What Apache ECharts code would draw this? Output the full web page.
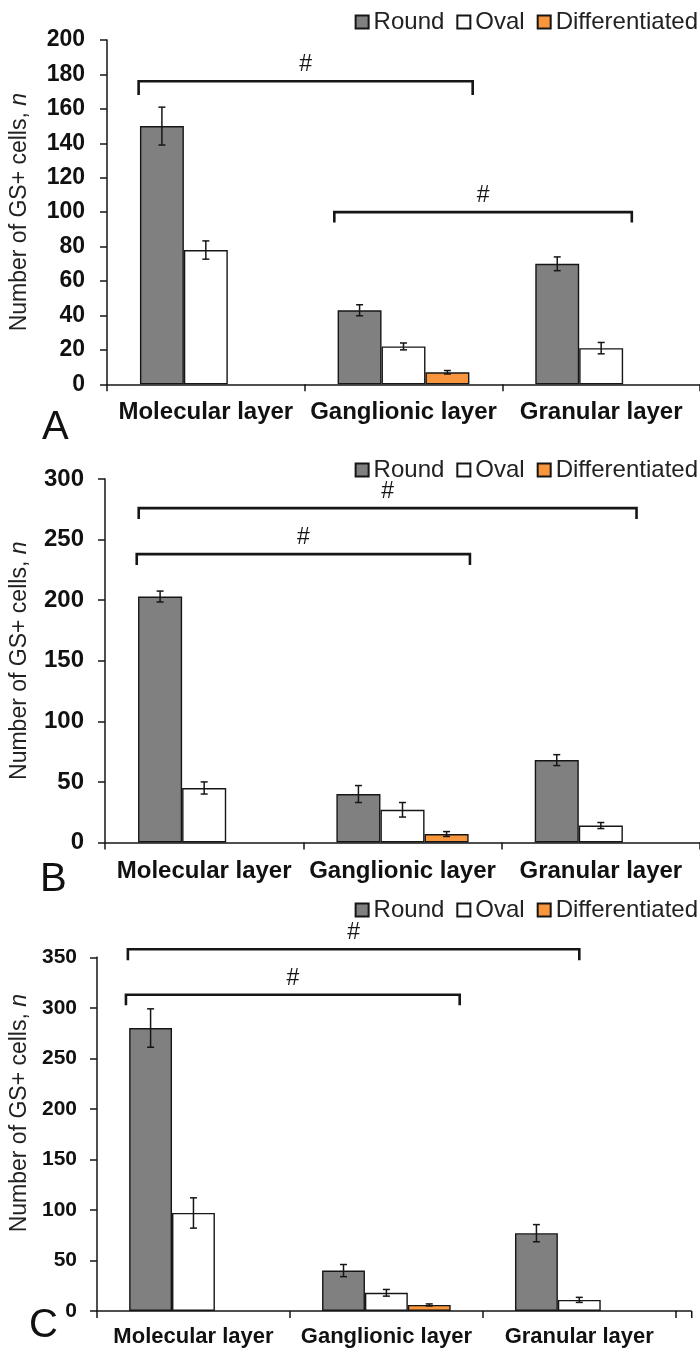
<!DOCTYPE html>
<html>
<head>
<meta charset="utf-8">
<script src="https://cdn.jsdelivr.net/npm/echarts@6/dist/echarts.min.js"></script>
<style>
  html, body { margin: 0; padding: 0; background: #fff; }
  .panel { position: absolute; left: 0; width: 700px; }
</style>
</head>
<body>
<div id="chartA" class="panel" style="top:0;height:450px"></div>
<div id="chartB" class="panel" style="top:450px;height:445px"></div>
<div id="chartC" class="panel" style="top:895px;height:454px"></div>
<script>
const categories = ['Molecular layer', 'Ganglionic layer', 'Granular layer']
const seriesNames = ['Round', 'Oval', 'Differentiated']

// panel A
const roundA = [150, 43, 70]
const ovalA = [78, 22, 21]
const diffA = [null, 7, null]
const roundErrA = [11, 3.2, 4]
const ovalErrA = [5.3, 2, 3.3]
const diffErrA = [null, 1, null]
// bracket: [from, to] in category units, line value, end value
const bracketsA = [[-0.34, 1.35, 176, 168], [0.65, 2.155, 100, 94]]

// panel B
const roundB = [203, 40, 68]
const ovalB = [45, 27, 14]
const diffB = [null, 7, null]
const roundErrB = [4.5, 7, 4.5]
const ovalErrB = [5, 6, 2.5]
const diffErrB = [null, 2, null]
const bracketsB = [[-0.33, 2.18, 276, 267], [-0.34, 1.34, 238, 229]]

// panel C
const roundC = [280, 40, 77]
const ovalC = [97, 18, 11]
const diffC = [null, 6, null]
const roundErrC = [19, 6, 8.5]
const ovalErrC = [15, 3.3, 2.5]
const diffErrC = [null, 1, null]
const bracketsC = [[-0.34, 2.0, 358, 347], [-0.35, 1.38, 313, 302.5]]

const FONT = "'Liberation Sans', Arial, sans-serif"
const INK = '#161616'
const colors = ['#808080', '#ffffff', '#f7963c']
const GAP = 1 / 3

const errorBarSeries = (values, errs, offset) => {
  const data = []
  values.forEach((v, i) => {
    if (v != null) data.push([i, v - errs[i], v + errs[i]])
  })
  return {
    type: 'custom',
    z: 5,
    encode: { x: 0, y: [1, 2] },
    data: data,
    renderItem: (params, api) => {
      const i = api.value(0)
      const lo = api.coord([i, api.value(1)])
      const hi = api.coord([i, api.value(2)])
      const band = api.size([1, 0])[0]
      const w = band * (1 - GAP) / 3
      const x = lo[0] + offset * w
      const cap = 3.5
      const style = { stroke: INK, lineWidth: 1.5 }
      return {
        type: 'group',
        children: [
          { type: 'line', shape: { x1: x, y1: lo[1], x2: x, y2: hi[1] }, style },
          { type: 'line', shape: { x1: x - cap, y1: lo[1], x2: x + cap, y2: lo[1] }, style },
          { type: 'line', shape: { x1: x - cap, y1: hi[1], x2: x + cap, y2: hi[1] }, style }
        ]
      }
    }
  }
}

const bracketSeries = (brackets) => {
  return {
    type: 'custom',
    z: 6,
    encode: { x: 0, y: 2 },
    data: brackets,
    renderItem: (params, api) => {
      const base = api.coord([0, api.value(2)])
      const yEnd = api.coord([0, api.value(3)])[1]
      const band = api.size([1, 0])[0]
      const x1 = base[0] + api.value(0) * band
      const x2 = base[0] + api.value(1) * band
      const yL = base[1]
      return {
        type: 'group',
        children: [
          {
            type: 'polyline',
            shape: { points: [[x1, yEnd], [x1, yL], [x2, yL], [x2, yEnd]] },
            style: { stroke: INK, lineWidth: 2.6, fill: null }
          },
          {
            type: 'text',
            x: (x1 + x2) / 2,
            y: yL - 5,
            style: { text: '#', fontSize: 23, fontFamily: FONT, fill: INK, align: 'center', verticalAlign: 'bottom' }
          }
        ]
      }
    }
  }
}

// excel-style axis stub beyond the last category (panel C only)
const axisStub = (grid, len) => {
  const x0 = grid.left + grid.width
  const y0 = grid.top + grid.height
  return [
    { type: 'line', shape: { x1: x0, y1: y0, x2: x0 + len, y2: y0 }, style: { stroke: INK, lineWidth: 1.5 } },
    { type: 'line', shape: { x1: x0 + len, y1: y0, x2: x0 + len, y2: y0 + 7 }, style: { stroke: INK, lineWidth: 1.5 } }
  ]
}

const makeOption = (cfg) => {
  const barSeries = [cfg.round, cfg.oval, cfg.diff].map((values, k) => {
    return {
      name: seriesNames[k],
      type: 'bar',
      barGap: '0%',
      barCategoryGap: (GAP * 100) + '%',
      data: values.map(v => (v == null ? '-' : v)),
      itemStyle: { color: colors[k], borderColor: INK, borderWidth: 1.4 }
    }
  })
  const graphic = [{
    type: 'text',
    left: cfg.letterX,
    top: cfg.letterTop,
    style: { text: cfg.letter, fontSize: 40, fontFamily: FONT, fill: '#111' }
  }]
  if (cfg.stub) graphic.push(...axisStub(cfg.grid, cfg.stub))
  return {
    animation: false,
    textStyle: { fontFamily: FONT },
    legend: {
      data: seriesNames,
      right: 2,
      top: cfg.legendTop,
      padding: 0,
      icon: 'rect',
      itemWidth: 13,
      itemHeight: 13,
      itemGap: 12,
      textStyle: { fontSize: 24, color: '#222', fontFamily: FONT }
    },
    graphic: graphic,
    grid: cfg.grid,
    xAxis: {
      type: 'category',
      data: categories,
      axisLine: { lineStyle: { color: INK, width: 1.5 } },
      axisTick: { show: true, length: 7, lineStyle: { color: INK, width: 1.5 } },
      axisLabel: {
        interval: 0, hideOverlap: false,
        fontSize: cfg.xFont, fontWeight: 'bold', color: '#111', margin: cfg.xMargin, fontFamily: FONT
      }
    },
    yAxis: {
      type: 'value',
      min: 0,
      max: cfg.max,
      interval: cfg.interval,
      name: 'Number of GS+ cells, {i|n}',
      nameLocation: 'middle',
      nameGap: cfg.nameGap,
      nameTextStyle: {
        fontSize: 23,
        color: '#222',
        fontFamily: FONT,
        padding: cfg.namePad,
        rich: { i: { fontStyle: 'italic', fontSize: 23, color: '#222', fontFamily: FONT } }
      },
      splitLine: { show: false },
      axisLine: { show: true, lineStyle: { color: INK, width: 1.5 } },
      axisTick: { show: true, length: 7, lineStyle: { color: INK, width: 1.5 } },
      axisLabel: { fontSize: cfg.yFont, fontWeight: 'bold', color: '#111', margin: cfg.yMargin, fontFamily: FONT }
    },
    series: [
      ...barSeries,
      errorBarSeries(cfg.round, cfg.roundErr, -1),
      errorBarSeries(cfg.oval, cfg.ovalErr, 0),
      errorBarSeries(cfg.diff, cfg.diffErr, 1),
      bracketSeries(cfg.brackets)
    ]
  }
}

const chartA = echarts.init(document.getElementById('chartA'))
chartA.setOption(makeOption({
  round: roundA, oval: ovalA, diff: diffA,
  roundErr: roundErrA, ovalErr: ovalErrA, diffErr: diffErrA,
  brackets: bracketsA,
  max: 200, interval: 20,
  grid: { left: 102.7, top: 40, width: 610.5, height: 344.3 },
  legendTop: 10,
  letter: 'A', letterX: 42, letterTop: 408,
  xFont: 24, xMargin: 16, yFont: 23, yMargin: 22,
  nameGap: 76, namePad: 0
}))

const chartB = echarts.init(document.getElementById('chartB'))
chartB.setOption(makeOption({
  round: roundB, oval: ovalB, diff: diffB,
  roundErr: roundErrB, ovalErr: ovalErrB, diffErr: diffErrB,
  brackets: bracketsB,
  max: 300, interval: 50,
  grid: { left: 103.6, top: 29, width: 598.5, height: 363.5 },
  legendTop: 8,
  letter: 'B', letterX: 40, letterTop: 410,
  xFont: 24, xMargin: 17, yFont: 24, yMargin: 21,
  nameGap: 74, namePad: 0
}))

const chartC = echarts.init(document.getElementById('chartC'))
chartC.setOption(makeOption({
  round: roundC, oval: ovalC, diff: diffC,
  roundErr: roundErrC, ovalErr: ovalErrC, diffErr: diffErrC,
  brackets: bracketsC,
  max: 350, interval: 50,
  grid: { left: 93.75, top: 62.3, width: 582, height: 353.7 },
  stub: 16,
  legendTop: 3,
  letter: 'C', letterX: 29, letterTop: 411,
  xFont: 22, xMargin: 15, yFont: 21, yMargin: 20,
  nameGap: 66, namePad: [0, 0, 0, 42]
}))
</script>
</body>
</html>
